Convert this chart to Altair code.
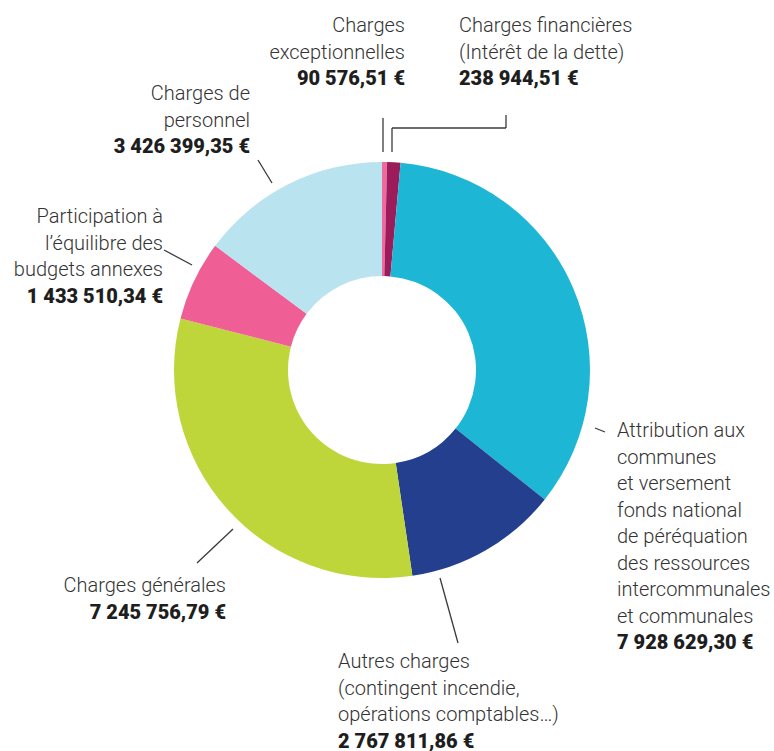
import altair as alt
import pandas as pd

# ---- data ----
categories = [
    "Charges exceptionnelles",
    "Charges financières (Intérêt de la dette)",
    "Attribution aux communes et versement fonds national de péréquation des ressources intercommunales et communales",
    "Autres charges (contingent incendie, opérations comptables…)",
    "Charges générales",
    "Participation à l’équilibre des budgets annexes",
    "Charges de personnel",
]
values = [90576.51, 238944.51, 7928629.30, 2767811.86, 7245756.79, 1433510.34, 3426399.35]
label_lines = [
    ["Charges", "exceptionnelles"],
    ["Charges financières", "(Intérêt de la dette)"],
    ["Attribution aux", "communes", "et versement", "fonds national", "de péréquation",
     "des ressources", "intercommunales", "et communales"],
    ["Autres charges", "(contingent incendie,", "opérations comptables…)"],
    ["Charges générales"],
    ["Participation à", "l’équilibre des", "budgets annexes"],
    ["Charges de", "personnel"],
]
colors = ["#ee6a9c", "#9b1b5b", "#1db7d5", "#243f8e", "#bfd63a", "#ef5f95", "#b9e3ef"]


def fr(v):
    s = f"{v:,.2f}"
    s = s.replace(",", " ").replace(".", ",")
    return s + " €"


# ---- layout (annotation positions) ----
W, H = 774, 751
CX, CY = 382, 370
R_OUT, R_IN = 208, 94
LH = 26.5
# anchor x, first baseline y, align
label_pos = [
    (405, 32, "right"),
    (459, 32, "left"),
    (617, 437, "left"),
    (338, 668, "left"),
    (226, 592, "right"),
    (163, 223, "right"),
    (250, 100, "right"),
]
leaders = [
    (383, 118, 383, 152),
    (392, 152, 392, 128),
    (392, 128, 506, 128),
    (506, 128, 506, 115),
    (595, 428, 605, 432),
    (440, 578, 458, 643),
    (233, 529, 197, 563),
    (192, 265, 164, 250),
    (272, 183, 258, 160),
]

slices = pd.DataFrame({
    "cat": categories,
    "value": values,
    "idx": list(range(len(categories))),
})

rows = []
for i, lines in enumerate(label_lines):
    x, y0, al = label_pos[i]
    for j, t in enumerate(lines):
        rows.append({"t": t, "x": x, "y": y0 + j * LH, "align": al, "bold": False})
    rows.append({"t": fr(values[i]), "x": x, "y": y0 + len(lines) * LH, "align": al, "bold": True})
labels = pd.DataFrame(rows)

segs = pd.DataFrame(leaders, columns=["x", "y", "x2", "y2"])

donut = alt.Chart(slices).mark_arc(
    innerRadius=R_IN, outerRadius=R_OUT, strokeWidth=0
).encode(
    theta=alt.Theta("value:Q", stack=True),
    order=alt.Order("idx:Q"),
    color=alt.Color("cat:N", scale=alt.Scale(domain=categories, range=colors), legend=None),
    x=alt.value(CX),
    y=alt.value(CY),
)

lines_layer = alt.Chart(segs).mark_rule(color="#3a3a3a", strokeWidth=1.3).encode(
    x=alt.X("x:Q", scale=None),
    y=alt.Y("y:Q", scale=None),
    x2="x2:Q",
    y2="y2:Q",
)


def text_layer(align, bold):
    d = labels[(labels["align"] == align) & (labels["bold"] == bold)]
    return alt.Chart(d).mark_text(
        align=align,
        baseline="alphabetic",
        font="Roboto",
        fontSize=20,
        fontWeight=900 if bold else 300,
        color="#1e1e1e" if bold else "#333333",
    ).encode(
        x=alt.X("x:Q", scale=None),
        y=alt.Y("y:Q", scale=None),
        text="t:N",
    )


chart = alt.layer(
    donut,
    lines_layer,
    text_layer("left", False),
    text_layer("right", False),
    text_layer("left", True),
    text_layer("right", True),
).properties(
    width=W, height=H, padding=0, autosize=alt.AutoSizeParams(type="none")
).configure_view(stroke=None)

chart.save("out.html", embed_options={"renderer": "svg", "actions": False})
